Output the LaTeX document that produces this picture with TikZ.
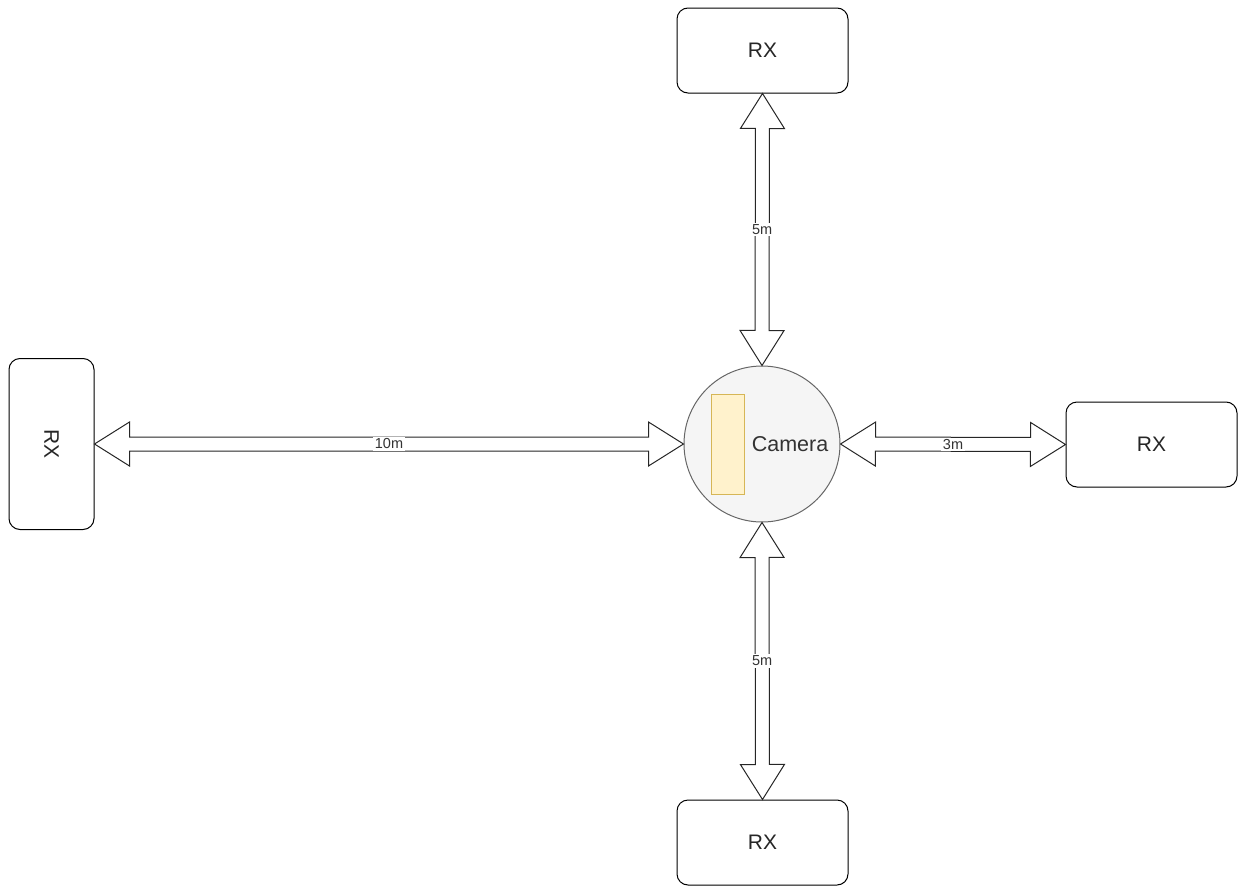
\documentclass[tikz,border=0pt]{standalone}
\usepackage{fontspec}
\setmainfont{Liberation Sans}
\usetikzlibrary{calc}
\definecolor{camfill}{HTML}{F5F5F5}
\definecolor{camline}{HTML}{666666}
\definecolor{yfill}{HTML}{FFF2CC}
\definecolor{yline}{HTML}{D6B656}
\definecolor{txt}{HTML}{333333}
\tikzset{
  rxbox/.style={draw=black, line width=1pt, rounded corners=11pt, fill=white,
    minimum width=171pt, minimum height=85pt, inner sep=0pt,
    font=\fontsize{21}{25}\selectfont, text=black!85},
  rxboxv/.style={rxbox, minimum width=85pt, minimum height=171pt},
  flexarrow/.style={draw=black!85, line width=1pt, fill=white, line join=miter},
  dist/.style={fill=white, inner sep=1.5pt, font=\fontsize{14.5}{16}\selectfont, text=txt}
}
\newcommand\blockarrow[4]{% from, to, label name, label text
  \draw[flexarrow] (#1)
    -- ($(#1)!35pt!(#2)!22pt!90:(#2)$)
    -- ($(#1)!35pt!(#2)!7pt!90:(#2)$)
    -- ($(#2)!35pt!(#1)!7pt!-90:(#1)$)
    -- ($(#2)!35pt!(#1)!22pt!-90:(#1)$)
    -- (#2)
    -- ($(#2)!35pt!(#1)!22pt!90:(#1)$)
    -- ($(#2)!35pt!(#1)!7pt!90:(#1)$)
    -- ($(#1)!35pt!(#2)!7pt!-90:(#2)$)
    -- ($(#1)!35pt!(#2)!22pt!-90:(#2)$)
    -- cycle;
  \node[dist] (#3) at ($(#1)!0.5!(#2)$) {#4};
}
\begin{document}
\begin{tikzpicture}[x=1pt,y=-1pt]
\useasboundingbox (0,0) rectangle (1240,886);
% camera
\node[circle, draw=camline, fill=camfill, line width=1pt, minimum size=156pt, inner sep=0pt] (cam) at (762,444) {};
\node[draw=yline, fill=yfill, line width=1pt, minimum width=33pt, minimum height=100pt, inner sep=0pt] (lens) at (727.5,444) {};
\node[text=txt, font=\fontsize{21.5}{25}\selectfont, inner sep=0pt] (camtxt) at (790,444) {Camera};
% receivers
\node[rxbox] (top) at (762.5,50.5) {RX};
\node[rxbox] (right) at (1151.5,444.5) {RX};
\node[rxbox] (bottom) at (762.5,842.5) {RX};
\node[rxboxv] (left) at (51.5,444) {};
\node[rotate=-90, font=\fontsize{21}{25}\selectfont, text=black!85] (lefttxt) at (left.center) {RX};
% arrows
\coordinate (camT) at (cam.north);
\coordinate (camB) at (cam.south);
\coordinate (camL) at (cam.west);
\coordinate (camR) at (cam.east);
\coordinate (topS) at (top.south);
\coordinate (botN) at (bottom.north);
\coordinate (leftE) at (left.east);
\coordinate (rightW) at (right.west);
\blockarrow{topS}{camT}{l1}{5m}
\blockarrow{camB}{botN}{l2}{5m}
\blockarrow{leftE}{camL}{l3}{10m}
\blockarrow{camR}{rightW}{l4}{3m}
\end{tikzpicture}
\end{document}
